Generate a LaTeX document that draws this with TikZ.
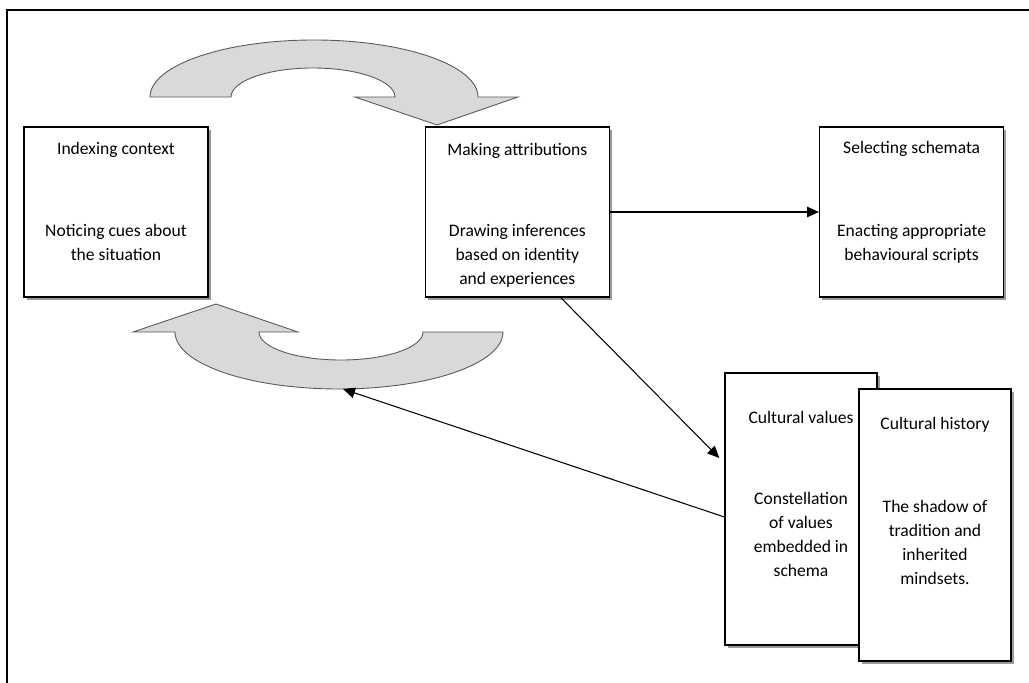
\documentclass[tikz,border=0pt]{standalone}
\usepackage{fontspec}
\setmainfont{Carlito}
\usepackage{tikz}
\usetikzlibrary{arrows.meta,positioning,shadows}

\begin{document}
\begin{tikzpicture}[x=0.02cm, y=-0.02cm, >={Triangle[length=6.8pt,width=6pt]},
  stage/.style={draw, line width=0.8pt, fill=white, minimum width=3.68cm, minimum height=3.4cm, inner sep=0pt,
                drop shadow={shadow xshift=1.6pt, shadow yshift=-1.6pt, fill=black!40, opacity=1}},
  tall/.style={stage, minimum width=3.04cm, minimum height=5.44cm},
  txt/.style={font=\fontsize{10}{13.7}\selectfont, align=center, inner sep=0pt},
  cyclearrow/.style={fill=gray!30, draw=black!65, line width=0.5pt},
  link/.style={->, line width=0.6pt}]

\useasboundingbox (0,0) rectangle (1029,683);
\fill[white] (0,0) rectangle (1029,683);
\clip (0,0) rectangle (1029,683);
\draw[line width=1.4pt] (7,10) rectangle (1100,760);

% the cycle between indexing and attributions
\draw[cyclearrow] (150,97) arc[start angle=180, end angle=360, x radius=164, y radius=57]
      -- (518,97) -- (437,125) -- (355,97) -- (395,97)
      arc[start angle=360, end angle=180, x radius=82, y radius=29] -- cycle;
\draw[cyclearrow] (503,332) arc[start angle=0, end angle=180, x radius=164, y radius=57]
      -- (133,332) -- (216,304) -- (298,332) -- (259,332)
      arc[start angle=180, end angle=0, x radius=82, y radius=28] -- cycle;
\coordinate (loopbot) at (343,389);

\node[stage] (idx)                         at (116,212) {};
\node[stage] (make) [right=4.32cm of idx]               {};
\node[stage] (sel)  [right=4.18cm of make]              {};

\node[txt] (idxhead)  at ([yshift=-0.48cm]idx.north)  {Indexing context};
\node[txt] (idxbody)  at ([yshift=-2.33cm]idx.north)  {Noticing cues about\\the situation};
\node[txt] (makehead) at ([yshift=-0.5cm]make.north)  {Making attributions};
\node[txt] (makebody) at ([yshift=-2.6cm]make.north)  {Drawing inferences\\based on identity\\and experiences};
\node[txt] (selhead)  at ([yshift=-0.46cm]sel.north)  {Selecting schemata};
\node[txt] (selbody)  at ([yshift=-2.35cm]sel.north)  {Enacting appropriate\\behavioural scripts};

\node[tall] (val) at (801,509) {};
\node[txt] (valhead) at ([yshift=-0.9cm]val.north)  {Cultural values};
\node[txt] (valbody) at ([yshift=-3.24cm]val.north) {Constellation\\of values\\embedded in\\schema};

\node[tall] (hist) at (935,525) {};
\node[txt] (histhead) at ([yshift=-0.72cm]hist.north)  {Cultural history};
\node[txt] (histbody) at ([yshift=-3.08cm]hist.north)  {The shadow of\\tradition and\\inherited\\mindsets.};

\path[link]
      (make) edge (sel)
      ([xshift=0.87cm]make.south) edge ([xshift=-0.1cm,yshift=1.02cm]val.west)
      ([yshift=-0.16cm]val.west) edge (loopbot);
\end{tikzpicture}
\end{document}
